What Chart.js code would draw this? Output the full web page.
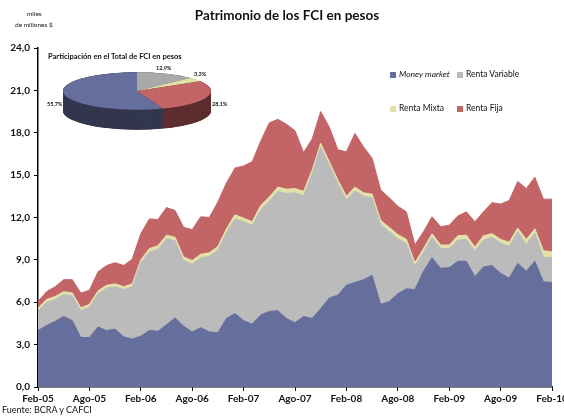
<!DOCTYPE html>
<html>
<head>
<meta charset="utf-8">
<script src="https://cdn.jsdelivr.net/npm/chart.js@4"></script>
<style>
  body { margin: 0; width: 564px; height: 417px; overflow: hidden; background: #fff; position: relative; font-family: Lato, sans-serif; }
  #main { position: absolute; left: 0; top: 0; }
  #pie { position: absolute; left: 57px; top: 61px; }
  .txt { position: absolute; white-space: nowrap; color: #111; }
  .sq { display: inline-block; width: 6px; height: 6px; margin-right: 3px; vertical-align: -0.5px; }
</style>
</head>
<body>
<canvas id="main" width="600" height="417"></canvas>
<canvas id="pie" width="160" height="160"></canvas>

<div class="txt" style="left:0;width:574px;text-align:center;top:7px;font-size:13.5px;font-weight:bold;">Patrimonio de los FCI en pesos</div>
<div class="txt" style="left:27px;top:10px;font-size:6.5px;">miles</div>
<div class="txt" style="left:15px;top:21px;font-size:6.5px;">de millones $</div>
<div class="txt" style="left:48px;top:52px;font-size:7.5px;font-weight:bold;">Participación en el Total de FCI en pesos</div>
<div class="txt" style="left:2px;top:404px;font-size:9px;">Fuente: BCRA y CAFCI</div>

<div class="txt" style="left:156px;top:65px;font-size:5.5px;font-weight:bold;">12,9%</div>
<div class="txt" style="left:194px;top:71px;font-size:5.5px;font-weight:bold;">3,3%</div>
<div class="txt" style="left:212px;top:101px;font-size:5.5px;font-weight:bold;">28,1%</div>
<div class="txt" style="left:47px;top:101px;font-size:5.5px;font-weight:bold;">55,7%</div>

<div id="legend"></div>

<script>
var months = ['Feb-05','Mar-05','Abr-05','May-05','Jun-05','Jul-05','Ago-05','Sep-05','Oct-05','Nov-05','Dic-05','Ene-06',
  'Feb-06','Mar-06','Abr-06','May-06','Jun-06','Jul-06','Ago-06','Sep-06','Oct-06','Nov-06','Dic-06','Ene-07',
  'Feb-07','Mar-07','Abr-07','May-07','Jun-07','Jul-07','Ago-07','Sep-07','Oct-07','Nov-07','Dic-07','Ene-08',
  'Feb-08','Mar-08','Abr-08','May-08','Jun-08','Jul-08','Ago-08','Sep-08','Oct-08','Nov-08','Dic-08','Ene-09',
  'Feb-09','Mar-09','Abr-09','May-09','Jun-09','Jul-09','Ago-09','Sep-09','Oct-09','Nov-09','Dic-09','Ene-10',
  'Feb-10'];

var moneyMarket = [4.0,4.35,4.65,5.0,4.7,3.5,3.5,4.25,4.0,4.1,3.55,3.4,3.6,4.0,3.95,4.4,4.9,4.3,3.9,4.2,
  3.9,3.85,4.85,5.2,4.7,4.45,5.1,5.35,5.4,4.85,4.55,5.0,4.85,5.55,6.3,6.5,7.2,7.4,7.6,7.9,
  5.85,6.05,6.6,6.95,6.9,8.2,9.15,8.4,8.45,8.9,8.9,7.8,8.5,8.6,8.05,7.7,8.75,8.2,8.9,7.45,7.4];

var rentaVariable = [1.4,1.65,1.55,1.55,1.75,1.9,2.15,2.35,3.0,3.0,3.35,3.7,5.2,5.55,5.8,6.1,5.45,4.65,4.8,4.95,
  5.35,5.85,6.1,6.7,7.0,7.0,7.45,7.8,8.45,8.85,9.2,8.55,10.25,11.45,9.4,7.9,6.05,6.5,5.9,5.5,
  5.65,4.95,3.9,3.2,1.65,1.35,1.45,1.4,1.35,1.5,1.55,1.85,1.9,2.0,2.15,2.25,2.25,1.9,2.0,1.75,1.75];

var rentaMixta = [0.2,0.2,0.2,0.2,0.2,0.2,0.2,0.2,0.2,0.2,0.2,0.2,0.2,0.25,0.25,0.25,0.25,0.25,0.25,0.25,
  0.25,0.25,0.25,0.3,0.25,0.25,0.3,0.3,0.3,0.3,0.3,0.3,0.25,0.25,0.25,0.25,0.25,0.25,0.25,0.25,
  0.3,0.3,0.3,0.3,0.25,0.25,0.25,0.25,0.25,0.3,0.3,0.25,0.3,0.25,0.25,0.3,0.25,0.35,0.3,0.45,0.4];

var rentaFija = [0.45,0.55,0.7,0.85,0.95,1.05,1.0,1.35,1.4,1.5,1.5,1.75,1.85,2.1,1.85,1.95,1.9,2.1,2.2,2.65,
  2.5,3.15,3.25,3.3,3.7,4.25,4.55,5.25,4.8,4.6,4.1,2.75,2.2,2.25,2.45,2.15,3.15,3.8,3.25,2.55,
  2.15,2.1,2.0,1.95,1.25,1.2,1.2,1.3,1.4,1.4,1.65,1.8,1.7,2.2,2.5,2.95,3.3,3.6,3.65,3.65,3.75];

var seriesNames = ['Money market', 'Renta Variable', 'Renta Mixta', 'Renta Fija'];
var seriesColors = ['#666e9c', '#bbbbbb', '#e2e2a8', '#c36566'];

var pieLabels = ['Renta Variable', 'Renta Mixta', 'Renta Fija', 'Money market'];
var pieValues = [12.9, 3.3, 28.1, 55.7];
var pieColors = ['#a9a9a9', '#e2e2a8', '#c36566', '#666e9c'];
var pieSides = ['#6a6a6a', '#8d8d66', '#5e2f31', '#34384f'];

const tickFont = { family: 'Lato', weight: 'bold', size: 10 };

const showGraph = () => {

    var values = [moneyMarket, rentaVariable, rentaMixta, rentaFija];
    var datasets = [];

    for (var i in values) {
        datasets.push({
            label: seriesNames[i],
            data: values[i],
            backgroundColor: seriesColors[i],
            borderColor: seriesColors[i],
            borderWidth: 1,
            fill: i == 0 ? 'origin' : '-1'
        });
    }

    new Chart(document.getElementById('main'), {
        type: 'line',
        data: { labels: months, datasets: datasets },
        options: {
            responsive: false,
            animation: false,
            layout: { padding: { top: 48, right: 48, left: 0, bottom: 0 } },
            plugins: { legend: { display: false }, tooltip: { enabled: false } },
            elements: { point: { radius: 0 }, line: { tension: 0 } },
            scales: {
                x: {
                    ticks: {
                        autoSkip: false, maxRotation: 0, padding: 2, color: '#111', font: tickFont,
                        callback: (v, idx) => idx % 6 === 0 ? months[idx] : ''
                    },
                    grid: {
                        drawOnChartArea: false, tickLength: 4,
                        color: c => c.index % 6 === 0 ? '#000' : 'rgba(0,0,0,0)'
                    },
                    border: { color: '#000', width: 1.5 },
                    afterFit: s => { s.height = 30; }
                },
                y: {
                    stacked: true, min: 0, max: 24,
                    ticks: {
                        stepSize: 3, padding: 4, color: '#111', font: tickFont,
                        callback: v => v.toFixed(1).replace('.', ',')
                    },
                    grid: { drawOnChartArea: false, tickLength: 4, color: '#000' },
                    border: { color: '#000', width: 1.5 },
                    afterFit: s => { s.width = 38; }
                }
            }
        }
    });

    // flatten the pie and give it a side
    var ratio = 0.253;
    var depth = 20;
    var tilt = {
        id: 'tilt',
        beforeDatasetsDraw(chart) {
            var ctx = chart.ctx;
            var arcs = chart.getDatasetMeta(0).data;
            var cx = arcs[0].x, cy = arcs[0].y;
            ctx.save();
            ctx.translate(cx, 30);
            ctx.scale(1, ratio);
            ctx.translate(-cx, -cy);
            for (var k = depth / ratio; k >= 0; k -= 1) {
                arcs.forEach((a, j) => {
                    ctx.beginPath();
                    ctx.moveTo(a.x, a.y + k);
                    ctx.arc(a.x, a.y + k, a.outerRadius, a.startAngle, a.endAngle);
                    ctx.closePath();
                    ctx.fillStyle = pieSides[j];
                    ctx.fill();
                });
            }
        },
        afterDatasetsDraw(chart) {
            chart.ctx.restore();
        }
    };

    new Chart(document.getElementById('pie'), {
        type: 'pie',
        data: {
            labels: pieLabels,
            datasets: [{ data: pieValues, backgroundColor: pieColors, borderWidth: 0, clip: false }]
        },
        options: {
            responsive: false,
            animation: false,
            layout: { padding: 6 },
            plugins: { legend: { display: false }, tooltip: { enabled: false } }
        },
        plugins: [tilt]
    });

    // legend
    var pos = [[390, 69], [457, 69], [390, 103], [457, 103]];
    var html = '';
    for (var i in seriesNames) {
        html += '<div class="txt" style="left:' + pos[i][0] + 'px;top:' + pos[i][1] + 'px;font-size:8.5px;' +
            (i == 0 ? 'font-style:italic;' : '') + '"><span class="sq" style="background:' + seriesColors[i] +
            '"></span>' + seriesNames[i] + '</div>';
    }
    document.getElementById('legend').innerHTML = html;
}

showGraph();
</script>
</body>
</html>
